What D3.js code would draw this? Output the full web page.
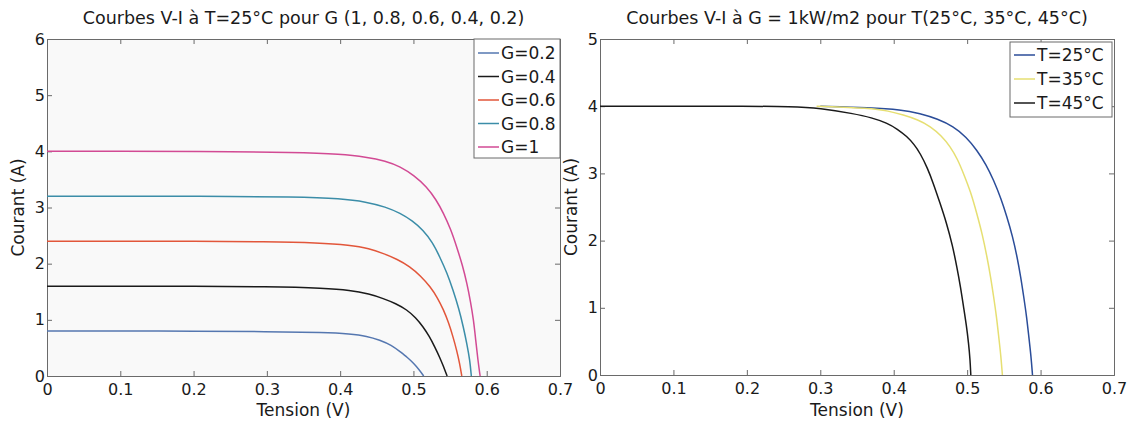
<!DOCTYPE html>
<html>
<head>
<meta charset="utf-8">
<style>
  body{
    margin: 0;
    background: #fff;
    font-family: 'DejaVu Sans', sans-serif;
  }
  svg text{ fill: #1a1a1a; }
</style>
</head>
<body>
<svg id='svgVis'></svg>

<script src="https://cdn.jsdelivr.net/npm/d3@7/dist/d3.min.js"></script>
<script>

// ---- data (V, I pairs) ----
var voltTicks = [0, 0.1, 0.2, 0.3, 0.4, 0.5, 0.6, 0.7];
var leftCurrentTicks = [0, 1, 2, 3, 4, 5, 6];
var rightCurrentTicks = [0, 1, 2, 3, 4, 5];

var gLabels = ["G=0.2", "G=0.4", "G=0.6", "G=0.8", "G=1"];
var gColors = ["#5577b0", "#1a1a1a", "#e2563a", "#3b8da8", "#d24a94"];

var curveG02 = [[0,0.80],[0.1,0.80],[0.2,0.80],[0.3,0.79],[0.38,0.775],[0.413,0.75],[0.437,0.71],[0.454,0.64],[0.470,0.55],[0.482,0.43],[0.492,0.33],[0.500,0.23],[0.508,0.11],[0.514,0]];
var curveG04 = [[0,1.60],[0.1,1.60],[0.2,1.60],[0.3,1.59],[0.38,1.565],[0.413,1.53],[0.440,1.46],[0.459,1.38],[0.476,1.29],[0.491,1.18],[0.503,1.04],[0.513,0.88],[0.522,0.70],[0.529,0.52],[0.536,0.33],[0.541,0.17],[0.546,0]];
var curveG06 = [[0,2.40],[0.1,2.40],[0.2,2.40],[0.3,2.39],[0.37,2.37],[0.413,2.33],[0.440,2.27],[0.459,2.18],[0.478,2.08],[0.495,1.95],[0.510,1.78],[0.523,1.59],[0.533,1.39],[0.541,1.18],[0.548,0.95],[0.554,0.70],[0.559,0.46],[0.563,0.23],[0.566,0]];
var curveG08 = [[0,3.20],[0.1,3.20],[0.2,3.20],[0.345,3.19],[0.40,3.16],[0.436,3.10],[0.462,3.01],[0.482,2.90],[0.499,2.76],[0.513,2.60],[0.526,2.38],[0.536,2.12],[0.546,1.83],[0.554,1.53],[0.562,1.20],[0.568,0.88],[0.573,0.57],[0.577,0.28],[0.579,0]];
var curveG10 = [[0,4.00],[0.1,4.00],[0.2,4.00],[0.345,3.98],[0.40,3.95],[0.436,3.90],[0.462,3.83],[0.482,3.73],[0.501,3.57],[0.518,3.37],[0.531,3.14],[0.541,2.90],[0.551,2.61],[0.559,2.30],[0.567,1.97],[0.573,1.65],[0.578,1.32],[0.582,1.00],[0.585,0.64],[0.588,0.28],[0.591,0]];

var tLabels = ["T=25°C", "T=35°C", "T=45°C"];
var tColors = ["#2b4d99", "#e6df72", "#1a1a1a"];

var curveT25 = [[0.30,4.00],[0.368,3.98],[0.41,3.95],[0.436,3.89],[0.460,3.81],[0.481,3.70],[0.499,3.54],[0.513,3.35],[0.526,3.13],[0.536,2.90],[0.546,2.63],[0.554,2.36],[0.562,2.06],[0.568,1.76],[0.573,1.46],[0.577,1.17],[0.581,0.87],[0.584,0.57],[0.587,0.28],[0.589,0]];
var curveT35 = [[0.295,4.00],[0.368,3.97],[0.393,3.93],[0.413,3.87],[0.433,3.80],[0.450,3.70],[0.465,3.56],[0.477,3.40],[0.487,3.21],[0.495,3.00],[0.505,2.72],[0.513,2.41],[0.521,2.08],[0.527,1.76],[0.532,1.46],[0.536,1.17],[0.540,0.87],[0.543,0.57],[0.546,0.28],[0.548,0]];
var curveT45 = [[0,4.00],[0.1,4.00],[0.2,4.00],[0.26,3.995],[0.300,3.97],[0.345,3.89],[0.370,3.83],[0.391,3.75],[0.405,3.66],[0.418,3.55],[0.428,3.43],[0.436,3.30],[0.446,3.08],[0.454,2.85],[0.463,2.56],[0.472,2.26],[0.480,1.93],[0.486,1.61],[0.491,1.31],[0.495,1.02],[0.499,0.74],[0.502,0.47],[0.504,0.23],[0.505,0]];

var svg = d3.select("#svgVis")
    .attr("width", 1129)
    .attr("height", 422);

function drawPanel(p) {

  var x = d3.scaleLinear().domain([0, 0.7]).range([p.left, p.right]);
  var y = d3.scaleLinear().domain([0, p.yMax]).range([p.bottom, p.top]);

  var g = svg.append("g");

  g.append("rect")
    .attr("x", p.left).attr("y", p.top)
    .attr("width", p.right - p.left).attr("height", p.bottom - p.top)
    .style("fill", p.bg);

  // inward ticks on all four sides, matlab style
  var tickLen = 5;
  g.append("g").attr("transform", "translate(0," + p.bottom + ")")
    .call(d3.axisBottom(x).tickValues(voltTicks).tickSize(-tickLen).tickFormat(d3.format("")).tickPadding(8));
  g.append("g").attr("transform", "translate(0," + p.top + ")")
    .call(d3.axisTop(x).tickValues(voltTicks).tickSize(-tickLen).tickFormat(""));
  g.append("g").attr("transform", "translate(" + p.left + ",0)")
    .call(d3.axisLeft(y).tickValues(p.yTicks).tickSize(-tickLen).tickFormat(d3.format("d")).tickPadding(2));
  g.append("g").attr("transform", "translate(" + p.right + ",0)")
    .call(d3.axisRight(y).tickValues(p.yTicks).tickSize(-tickLen).tickFormat(""));

  g.selectAll(".domain").style("stroke", "#6a6a6a");
  g.selectAll(".tick line").style("stroke", "#6a6a6a");
  g.selectAll(".tick text")
    .style("font-family", "'DejaVu Sans', sans-serif")
    .style("font-size", "16px")
    .style("fill", "#1a1a1a");

  // b-spline smooths out the small reading errors in the points
  var line = d3.line()
    .x(function(d) { return x(d[0]); })
    .y(function(d) { return y(d[1]); })
    .curve(d3.curveBasis);

  p.series.forEach(function(s, i) {
    g.append("path")
      .attr("d", line(s))
      .style("fill", "none")
      .style("stroke", p.colors[i])
      .style("stroke-width", 1.5);
  });

  // title and axis labels
  g.append("text")
    .attr("x", (p.left + p.right) / 2).attr("y", 24)
    .attr("text-anchor", "middle")
    .style("font-size", "17.5px")
    .text(p.title);

  g.append("text")
    .attr("x", (p.left + p.right) / 2).attr("y", 416)
    .attr("text-anchor", "middle")
    .style("font-size", "17px")
    .text("Tension (V)");

  g.append("text")
    .attr("transform", "translate(" + p.yLabelX + "," + ((p.top + p.bottom) / 2) + ") rotate(-90)")
    .attr("text-anchor", "middle")
    .style("font-size", "17px")
    .text("Courant (A)");

  // legend
  var lg = g.append("g");
  lg.append("rect")
    .attr("x", p.legend.x).attr("y", p.legend.y)
    .attr("width", p.legend.w).attr("height", p.legend.h)
    .style("fill", "#fff")
    .style("stroke", "#6a6a6a");

  p.labels.forEach(function(lab, i) {
    var ly = p.legend.y + p.legend.first + i * p.legend.step;
    lg.append("line")
      .attr("x1", p.legend.x + 4).attr("x2", p.legend.x + 25)
      .attr("y1", ly).attr("y2", ly)
      .style("stroke", p.colors[i])
      .style("stroke-width", 1.5);
    lg.append("text")
      .attr("x", p.legend.x + 27).attr("y", ly + 6)
      .style("font-size", "17px")
      .text(lab);
  });
}

drawPanel({
  left: 47, right: 560, top: 39, bottom: 376,
  yMax: 6, yTicks: leftCurrentTicks, bg: "#f9f9f9",
  series: [curveG02, curveG04, curveG06, curveG08, curveG10],
  colors: gColors, labels: gLabels,
  title: "Courbes V-I à T=25°C pour G (1, 0.8, 0.6, 0.4, 0.2)",
  yLabelX: 24,
  legend: {x: 474, y: 39, w: 86, h: 119, first: 14, step: 23.5}
});

drawPanel({
  left: 600, right: 1114, top: 39, bottom: 375,
  yMax: 5, yTicks: rightCurrentTicks, bg: "#fff",
  series: [curveT25, curveT35, curveT45],
  colors: tColors, labels: tLabels,
  title: "Courbes V-I à G = 1kW/m2 pour T(25°C, 35°C, 45°C)",
  yLabelX: 577,
  legend: {x: 1010, y: 42, w: 102, h: 75, first: 13, step: 24}
});

</script>
</body>
</html>
